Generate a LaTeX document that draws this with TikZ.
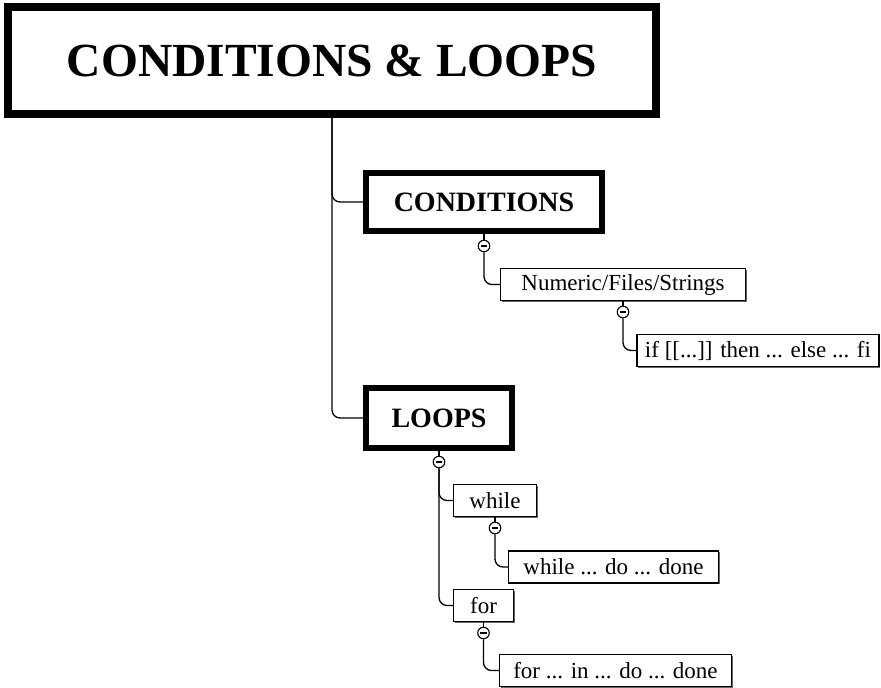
\documentclass[tikz,border=0pt]{standalone}
\usepackage{fontspec}
\setmainfont{Liberation Serif}
\usetikzlibrary{shadows}
\begin{document}
\begin{tikzpicture}[x=1pt,y=-1pt,
  bigbox/.style={draw, line width=8pt, inner sep=0pt, font=\fontsize{47.5}{50}\selectfont\bfseries},
  midbox/.style={draw, line width=6pt, inner sep=0pt, font=\fontsize{28}{30}\selectfont\bfseries},
  leafbox/.style={draw, line width=1.3pt, inner sep=0pt, fill=white, minimum height=32pt,
    font=\fontsize{23}{25}\selectfont,
    drop shadow={shadow xshift=1pt, shadow yshift=-1pt, opacity=0.6, fill=black}},
  toggle/.style={circle, draw, line width=1.1pt, fill=white, minimum size=11.5pt, inner sep=0pt,
    path picture={\draw[line width=1.3pt] ([xshift=2.4pt]path picture bounding box.west) -- ([xshift=-2.4pt]path picture bounding box.east);}},
  conn/.style={line width=1.3pt, rounded corners=8pt}
]
\useasboundingbox (0,0) rectangle (881,688);
\fill[white] (0,0) rectangle (881,688);

% main boxes
\node[bigbox, minimum width=648pt, minimum height=107pt] (title) at (332,60.5) {CONDITIONS \& LOOPS};
\node[midbox, minimum width=236pt, minimum height=58pt] (cond) at (484,202) {CONDITIONS};
\node[midbox, minimum width=146pt, minimum height=60pt] (loops) at (439,418) {LOOPS};

% leaf boxes
\node[leafbox, minimum width=245pt] (num) at (623,284.5) {Numeric/Files/Strings};
\node[leafbox, minimum width=242pt] (ifb) at (758,350.5) {if [[...]] then ... else ... fi};
\node[leafbox, minimum width=83pt] (while) at (495,500.5) {while};
\node[leafbox, minimum width=210pt] (whiledo) at (613.5,567) {while ... do ... done};
\node[leafbox, minimum width=60pt] (for) at (483.5,605.5) {for};
\node[leafbox, minimum width=232pt] (fordo) at (615.5,670.5) {for ... in ... do ... done};

% toggles
\node[toggle] (tcond) at (484,246) {};
\node[toggle] (tnum) at (623,312) {};
\node[toggle] (tloops) at (439,462) {};
\node[toggle] (twhile) at (495,528) {};
\node[toggle] (tfor) at (483.5,633) {};

% connectors
\draw[conn] (title.south) |- (cond.west);
\draw[conn] (title.south) |- (loops.west);
\draw[line width=1.3pt] (cond.south) -- (tcond);
\draw[conn] (tcond.south) |- (num.west);
\draw[line width=1.3pt] (num.south) -- (tnum);
\draw[conn] (tnum.south) |- (ifb.west);
\draw[line width=1.3pt] (loops.south) -- (tloops);
\draw[conn] (tloops.south) |- (while.west);
\draw[conn] (tloops.south) |- (for.west);
\draw[line width=1.3pt] (while.south) -- (twhile);
\draw[conn] (twhile.south) |- (whiledo.west);
\draw[line width=1.3pt] (for.south) -- (tfor);
\draw[conn] (tfor.south) |- (fordo.west);
\end{tikzpicture}
\end{document}
